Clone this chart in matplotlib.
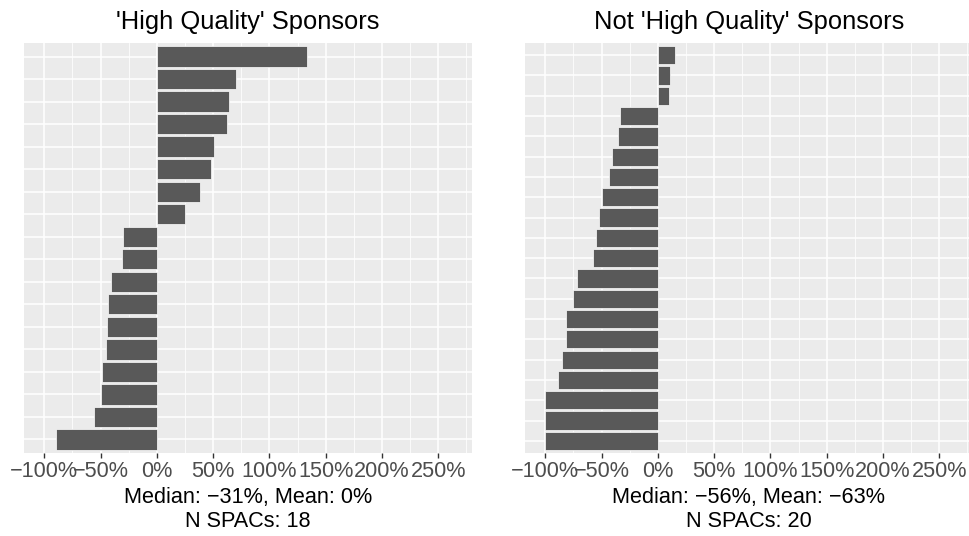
import matplotlib
matplotlib.use("Agg")
import matplotlib.pyplot as plt
from matplotlib.ticker import FixedLocator, FuncFormatter

plt.rcParams['font.family'] = ['Liberation Sans', 'DejaVu Sans']

# Data (top-to-bottom order, returns in %)
titles = ["'High Quality' Sponsors", "Not 'High Quality' Sponsors"]
hq_returns = [133, 70, 64, 62, 51, 48, 38, 25,
              -30, -31, -41, -43, -44, -45, -49, -50, -56, -90]
nhq_returns = [15, 11, 10, -34, -35, -41, -43, -50, -52, -55, -58,
               -72, -75, -82, -82, -85, -89, -100, -100, -100]
xlabels = ["Median: \u221231%, Mean: 0%\nN SPACs: 18",
           "Median: \u221256%, Mean: \u221263%\nN SPACs: 20"]
major_ticks = [-100, -50, 0, 50, 100, 150, 200, 250]
minor_ticks = [-75, -25, 25, 75, 125, 175, 225, 275]

W, H = 969, 536
fig = plt.figure(figsize=(W / 100, H / 100), dpi=100)

panel_top, panel_bot = 43, 453
panel_w = 448
lefts = [24, 525]

def fmt(v, pos):
    s = f"{int(round(v))}%"
    return s.replace("-", "\u2212")

for left, title, vals, xl in zip(lefts, titles, [hq_returns, nhq_returns], xlabels):
    ax = fig.add_axes([left / W, (H - panel_bot) / H, panel_w / W, (panel_bot - panel_top) / H])
    n = len(vals)
    ypos = list(range(n, 0, -1))
    ax.set_facecolor('#EBEBEB')
    ax.barh(ypos, vals, height=0.9, color='#595959', edgecolor='white', linewidth=0.5, zorder=3)
    ax.set_xlim(-118, 280)
    ax.set_ylim(0.4, n + 0.6)
    ax.xaxis.set_major_locator(FixedLocator(major_ticks))
    ax.xaxis.set_minor_locator(FixedLocator(minor_ticks))
    ax.xaxis.set_major_formatter(FuncFormatter(fmt))
    ax.yaxis.set_major_locator(FixedLocator(ypos))
    ax.set_yticklabels([])
    ax.grid(which='major', color='white', linewidth=1.1, zorder=1)
    ax.grid(which='minor', axis='x', color='white', linewidth=0.55, zorder=1)
    ax.set_axisbelow(True)
    for sp in ax.spines.values():
        sp.set_visible(False)
    ax.tick_params(axis='x', which='major', length=3.5, width=1.0, color='#333333',
                   labelsize=15.6, labelcolor='#4D4D4D', pad=2.5)
    ax.tick_params(axis='x', which='minor', length=0)
    ax.tick_params(axis='y', which='both', length=0)
    ax.set_xlabel(xl, fontsize=15.6, color='black', labelpad=3, linespacing=1.2)
    ax.set_title(title, fontsize=18.4, color='black', pad=10)

fig.savefig('out.png', dpi=100)
